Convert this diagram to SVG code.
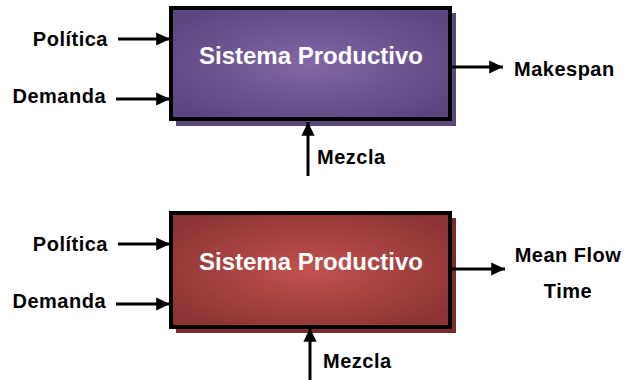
<svg xmlns="http://www.w3.org/2000/svg" width="625" height="380" viewBox="0 0 625 380">
  <defs>
    <radialGradient id="gPurple" cx="50%" cy="50%" r="60%">
      <stop offset="0" stop-color="#8366a6"/>
      <stop offset="1" stop-color="#5c4680"/>
    </radialGradient>
    <radialGradient id="gRed" cx="50%" cy="50%" r="60%">
      <stop offset="0" stop-color="#c25250"/>
      <stop offset="1" stop-color="#8c3434"/>
    </radialGradient>
    <marker id="arrow" markerWidth="4.6" markerHeight="4.4" refX="4.6" refY="2.2" orient="auto" markerUnits="strokeWidth">
      <path d="M0,0 L4.6,2.2 L0,4.4 Z" fill="#000"/>
    </marker>
    <style>
      .box { stroke: #000; stroke-width: 4; }
      .lbl { font-family: "Liberation Sans", Arial, sans-serif; font-weight: bold; font-size: 20px; letter-spacing: 0.5px; fill: #000; }
      .title { font-family: "Liberation Sans", Arial, sans-serif; font-weight: bold; font-size: 24px; fill: #fff; text-anchor: middle; }
      .conn { stroke: #000; stroke-width: 3; fill: none; marker-end: url(#arrow); }
    </style>
  </defs>

  <!-- upper system block -->
  <g id="sistema1">
    <rect x="176" y="13" width="280" height="113" fill="#5a4878"/>
    <rect class="box" x="171" y="8" width="279" height="111" fill="url(#gPurple)"/>
    <text class="title" x="311" y="64">Sistema Productivo</text>
  </g>

  <!-- lower system block -->
  <g id="sistema2">
    <rect x="176" y="218" width="280" height="115" fill="#7a2c2c"/>
    <rect class="box" x="171" y="213" width="279" height="114" fill="url(#gRed)"/>
    <text class="title" x="311" y="270">Sistema Productivo</text>
  </g>

  <!-- labels -->
  <g id="labels1">
    <text class="lbl" x="108" y="46" text-anchor="end">Política</text>
    <text class="lbl" x="106" y="103" text-anchor="end">Demanda</text>
    <text class="lbl" x="514" y="76">Makespan</text>
    <text class="lbl" x="317" y="164">Mezcla</text>
  </g>
  <g id="labels2">
    <text class="lbl" x="108" y="251" text-anchor="end">Política</text>
    <text class="lbl" x="106" y="308" text-anchor="end">Demanda</text>
    <text class="lbl" x="568" y="262" text-anchor="middle">Mean Flow</text>
    <text class="lbl" x="568" y="298" text-anchor="middle">Time</text>
    <text class="lbl" x="323" y="368">Mezcla</text>
  </g>

  <!-- connectors -->
  <g id="connectors">
    <line class="conn" x1="118" y1="39" x2="170" y2="39"/>
    <line class="conn" x1="116" y1="99" x2="170" y2="99"/>
    <line class="conn" x1="452" y1="67" x2="503" y2="67"/>
    <line class="conn" x1="308" y1="176" x2="308" y2="122"/>
    <line class="conn" x1="118" y1="244" x2="170" y2="244"/>
    <line class="conn" x1="116" y1="304" x2="170" y2="304"/>
    <line class="conn" x1="452" y1="269" x2="505" y2="269"/>
    <line class="conn" x1="310" y1="380" x2="310" y2="328"/>
  </g>
</svg>
